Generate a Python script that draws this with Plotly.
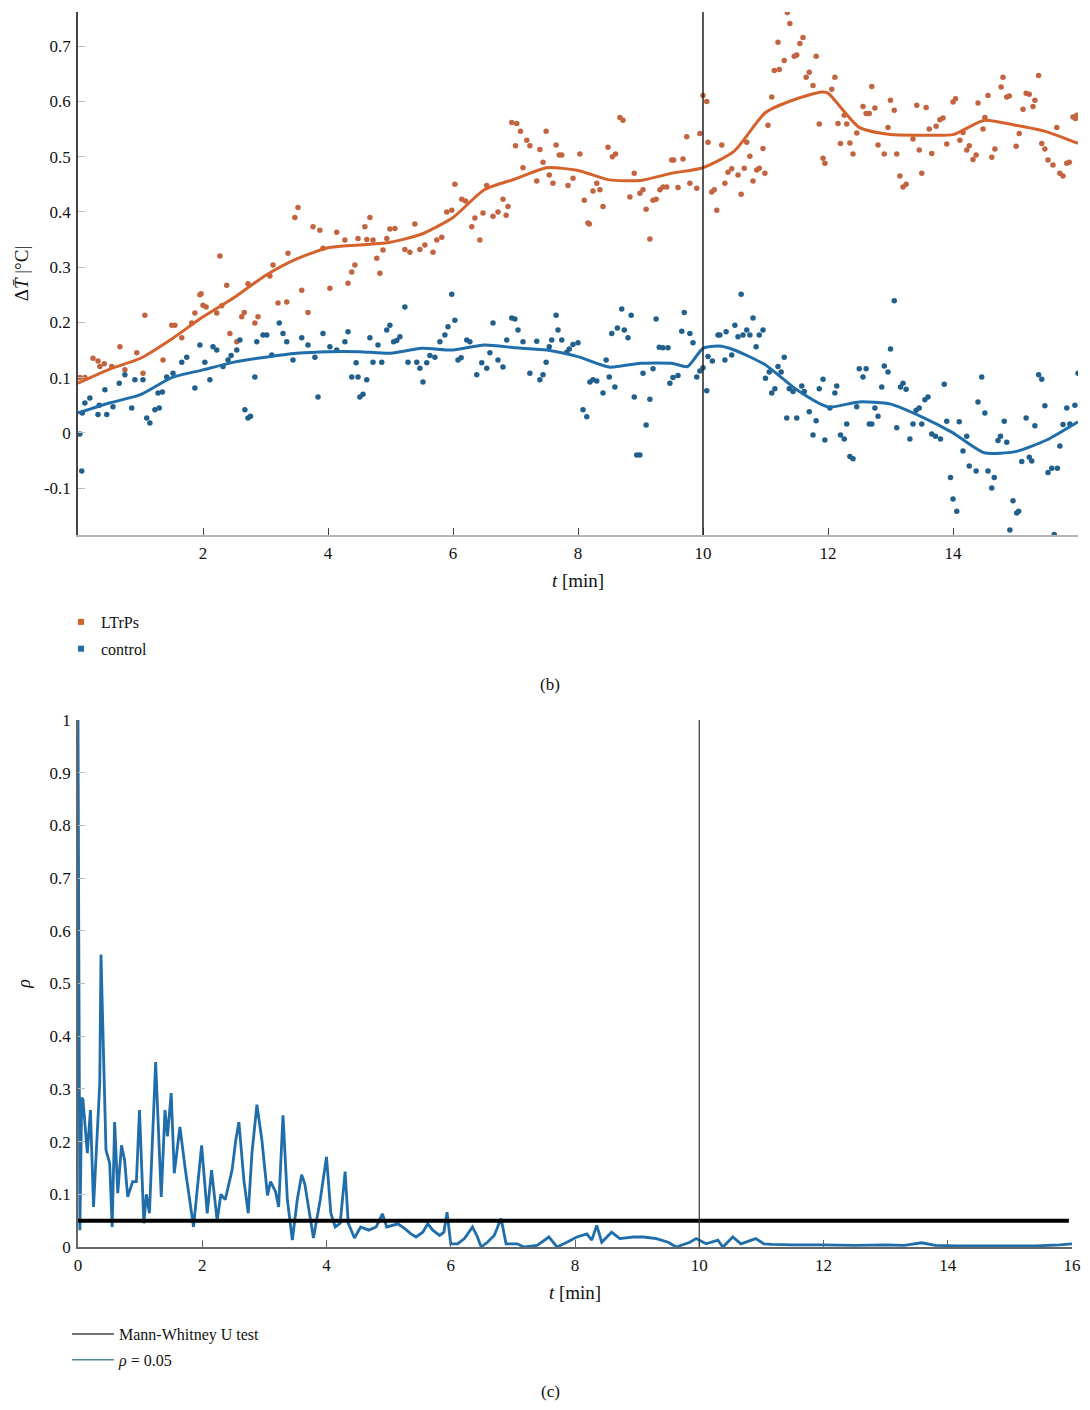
import plotly.graph_objects as go

# ---------------- data: panel (b) ----------------
ltrps_points = [
    (0.03, 0.10), (0.11, 0.10), (0.24, 0.135), (0.32, 0.13), (0.35, 0.12), (0.42, 0.125), (0.54, 0.12),
    (0.67, 0.156), (0.75, 0.114), (0.94, 0.145), (1.04, 0.108), (1.07, 0.213), (1.36, 0.132), (1.50, 0.195),
    (1.55, 0.195), (1.66, 0.172), (1.82, 0.199), (1.87, 0.217), (1.95, 0.25), (1.97, 0.252), (2.00, 0.231),
    (2.05, 0.228), (2.22, 0.217), (2.27, 0.32), (2.30, 0.23), (2.38, 0.267), (2.43, 0.18), (2.54, 0.165),
    (2.62, 0.21), (2.66, 0.218), (2.72, 0.27), (2.83, 0.199), (2.88, 0.21), (3.07, 0.284), (3.12, 0.304),
    (3.20, 0.235), (3.34, 0.237), (3.36, 0.325), (3.47, 0.39), (3.52, 0.408), (3.58, 0.258), (3.68, 0.218),
    (3.76, 0.373), (3.87, 0.367), (3.92, 0.334), (4.03, 0.262), (4.14, 0.363), (4.27, 0.349), (4.32, 0.271),
    (4.38, 0.291), (4.43, 0.304), (4.48, 0.352), (4.59, 0.373), (4.62, 0.35), (4.67, 0.39), (4.72, 0.349),
    (4.78, 0.316), (4.83, 0.289), (4.88, 0.331), (4.94, 0.352), (4.99, 0.369), (5.07, 0.37), (5.23, 0.332),
    (5.31, 0.327), (5.39, 0.378), (5.47, 0.332), (5.55, 0.34), (5.68, 0.327), (5.74, 0.349), (5.82, 0.354),
    (5.90, 0.40), (5.98, 0.403), (6.03, 0.45), (6.14, 0.423), (6.20, 0.42), (6.30, 0.373), (6.35, 0.389),
    (6.43, 0.349), (6.48, 0.398), (6.54, 0.448), (6.64, 0.392), (6.72, 0.40), (6.80, 0.423), (6.85, 0.394),
    (6.88, 0.41), (6.94, 0.562), (7.00, 0.52), (7.02, 0.56), (7.08, 0.546), (7.12, 0.48), (7.18, 0.53),
    (7.23, 0.52), (7.34, 0.456), (7.39, 0.513), (7.44, 0.49), (7.49, 0.546), (7.54, 0.467), (7.60, 0.452),
    (7.65, 0.521), (7.70, 0.503), (7.74, 0.503), (7.84, 0.448), (7.92, 0.461), (8.03, 0.505), (8.10, 0.421),
    (8.16, 0.38), (8.18, 0.378), (8.24, 0.438), (8.30, 0.452), (8.35, 0.44), (8.40, 0.41), (8.48, 0.517),
    (8.55, 0.50), (8.60, 0.505), (8.67, 0.571), (8.72, 0.566), (8.83, 0.427), (8.90, 0.47), (8.99, 0.434),
    (9.04, 0.44), (9.09, 0.405), (9.15, 0.351), (9.20, 0.421), (9.25, 0.423), (9.31, 0.44), (9.36, 0.445),
    (9.42, 0.445), (9.50, 0.494), (9.53, 0.494), (9.60, 0.444), (9.68, 0.496), (9.74, 0.536), (9.79, 0.452),
    (9.90, 0.443), (9.95, 0.542), (10.00, 0.611), (10.06, 0.60), (10.08, 0.526), (10.14, 0.436), (10.18, 0.44),
    (10.22, 0.403), (10.30, 0.521), (10.35, 0.452), (10.40, 0.472), (10.46, 0.478), (10.56, 0.467),
    (10.61, 0.432), (10.66, 0.479), (10.70, 0.526), (10.75, 0.501), (10.80, 0.456), (10.86, 0.476),
    (10.90, 0.479), (10.96, 0.515), (10.99, 0.47), (11.04, 0.557), (11.10, 0.608), (11.14, 0.656),
    (11.20, 0.707), (11.22, 0.658), (11.30, 0.674), (11.35, 0.761), (11.39, 0.741), (11.46, 0.682),
    (11.50, 0.684), (11.55, 0.705), (11.60, 0.716), (11.65, 0.644), (11.70, 0.653), (11.76, 0.629),
    (11.81, 0.682), (11.86, 0.559), (11.92, 0.497), (11.95, 0.488), (12.06, 0.622), (12.11, 0.644),
    (12.16, 0.56), (12.20, 0.524), (12.26, 0.575), (12.30, 0.559), (12.35, 0.525), (12.40, 0.505),
    (12.46, 0.543), (12.56, 0.591), (12.61, 0.578), (12.66, 0.578), (12.70, 0.627), (12.75, 0.588),
    (12.80, 0.521), (12.90, 0.505), (12.96, 0.553), (13.00, 0.602), (13.06, 0.584), (13.10, 0.505),
    (13.15, 0.465), (13.20, 0.445), (13.25, 0.45), (13.36, 0.532), (13.42, 0.593), (13.46, 0.512),
    (13.50, 0.47), (13.57, 0.589), (13.62, 0.55), (13.66, 0.506), (13.73, 0.555), (13.79, 0.567),
    (13.84, 0.57), (13.90, 0.523), (14.00, 0.599), (14.04, 0.605), (14.11, 0.53), (14.16, 0.544),
    (14.22, 0.512), (14.26, 0.52), (14.32, 0.495), (14.37, 0.503), (14.40, 0.597), (14.48, 0.55),
    (14.51, 0.571), (14.56, 0.611), (14.62, 0.499), (14.67, 0.514), (14.77, 0.626), (14.80, 0.644),
    (14.86, 0.608), (14.90, 0.61), (15.01, 0.519), (15.06, 0.542), (15.12, 0.586), (15.17, 0.615),
    (15.22, 0.613), (15.28, 0.591), (15.31, 0.602), (15.37, 0.647), (15.42, 0.524), (15.47, 0.514),
    (15.52, 0.494), (15.60, 0.485), (15.66, 0.553), (15.71, 0.47), (15.76, 0.465), (15.82, 0.488),
    (15.86, 0.49), (15.92, 0.572), (15.96, 0.569), (15.98, 0.575),
]

control_points = [
    (0.03, -0.002), (0.06, -0.069), (0.07, 0.036), (0.11, 0.054), (0.19, 0.063), (0.32, 0.033), (0.34, 0.05),
    (0.43, 0.078), (0.46, 0.033), (0.56, 0.047), (0.66, 0.09), (0.75, 0.105), (0.86, 0.045), (0.91, 0.096),
    (1.04, 0.096), (1.10, 0.027), (1.15, 0.018), (1.23, 0.042), (1.28, 0.072), (1.30, 0.045), (1.35, 0.074),
    (1.42, 0.101), (1.52, 0.108), (1.66, 0.128), (1.74, 0.137), (1.87, 0.081), (1.95, 0.159), (2.03, 0.128),
    (2.11, 0.096), (2.16, 0.156), (2.22, 0.15), (2.32, 0.12), (2.40, 0.132), (2.45, 0.14), (2.54, 0.15),
    (2.59, 0.168), (2.67, 0.042), (2.72, 0.027), (2.76, 0.03), (2.83, 0.101), (2.86, 0.165), (2.96, 0.177),
    (3.02, 0.177), (3.10, 0.141), (3.22, 0.199), (3.28, 0.18), (3.34, 0.165), (3.44, 0.132), (3.58, 0.172),
    (3.68, 0.159), (3.79, 0.137), (3.84, 0.065), (3.92, 0.18), (4.03, 0.156), (4.14, 0.15), (4.27, 0.165),
    (4.32, 0.183), (4.38, 0.101), (4.45, 0.127), (4.48, 0.101), (4.51, 0.065), (4.56, 0.07), (4.62, 0.096),
    (4.67, 0.172), (4.72, 0.128), (4.80, 0.159), (4.86, 0.128), (4.94, 0.186), (4.99, 0.195), (5.05, 0.165),
    (5.10, 0.167), (5.15, 0.174), (5.23, 0.228), (5.28, 0.128), (5.42, 0.128), (5.47, 0.117), (5.52, 0.092),
    (5.58, 0.127), (5.63, 0.14), (5.71, 0.137), (5.79, 0.165), (5.87, 0.177), (5.92, 0.192), (5.98, 0.251),
    (6.03, 0.204), (6.08, 0.132), (6.13, 0.136), (6.22, 0.168), (6.27, 0.165), (6.38, 0.105), (6.46, 0.127),
    (6.54, 0.117), (6.59, 0.145), (6.64, 0.199), (6.72, 0.132), (6.80, 0.119), (6.86, 0.168), (6.94, 0.208),
    (6.99, 0.206), (7.04, 0.186), (7.12, 0.165), (7.23, 0.108), (7.34, 0.166), (7.39, 0.096), (7.44, 0.105),
    (7.49, 0.128), (7.54, 0.156), (7.58, 0.168), (7.65, 0.213), (7.68, 0.186), (7.74, 0.168), (7.82, 0.146),
    (7.86, 0.152), (7.92, 0.16), (8.00, 0.163), (8.08, 0.042), (8.14, 0.029), (8.19, 0.092), (8.24, 0.096),
    (8.30, 0.094), (8.40, 0.072), (8.45, 0.132), (8.50, 0.101), (8.54, 0.18), (8.59, 0.083), (8.63, 0.19),
    (8.70, 0.224), (8.74, 0.186), (8.80, 0.172), (8.85, 0.213), (8.90, 0.065), (8.94, -0.04), (8.99, -0.04),
    (9.04, 0.108), (9.09, 0.014), (9.15, 0.061), (9.20, 0.116), (9.25, 0.206), (9.30, 0.155), (9.36, 0.154),
    (9.44, 0.154), (9.47, 0.09), (9.52, 0.1), (9.60, 0.104), (9.66, 0.184), (9.70, 0.218), (9.79, 0.18),
    (9.84, 0.163), (9.90, 0.101), (9.95, 0.112), (10.00, 0.118), (10.06, 0.076), (10.08, 0.138),
    (10.15, 0.13), (10.24, 0.177), (10.27, 0.177), (10.35, 0.132), (10.37, 0.183), (10.46, 0.141),
    (10.51, 0.195), (10.56, 0.174), (10.61, 0.251), (10.64, 0.177), (10.70, 0.186), (10.75, 0.177),
    (10.80, 0.208), (10.85, 0.156), (10.90, 0.177), (10.96, 0.186), (11.00, 0.099), (11.06, 0.11),
    (11.10, 0.072), (11.15, 0.08), (11.20, 0.12), (11.25, 0.11), (11.30, 0.137), (11.34, 0.027),
    (11.38, 0.08), (11.44, 0.075), (11.50, 0.027), (11.58, 0.085), (11.62, 0.075), (11.70, 0.038),
    (11.76, -0.004), (11.81, 0.022), (11.86, 0.08), (11.92, 0.097), (11.95, -0.013), (12.03, 0.045),
    (12.11, 0.072), (12.14, 0.085), (12.20, -0.004), (12.26, -0.011), (12.30, 0.016), (12.35, -0.043),
    (12.40, -0.047), (12.46, 0.047), (12.50, 0.116), (12.56, 0.101), (12.61, 0.116), (12.66, 0.016),
    (12.70, 0.016), (12.75, 0.045), (12.80, 0.03), (12.86, 0.083), (12.90, 0.121), (12.96, 0.11),
    (13.00, 0.152), (13.06, 0.239), (13.10, 0.009), (13.16, 0.083), (13.20, 0.09), (13.25, 0.079),
    (13.31, -0.011), (13.36, 0.016), (13.41, 0.041), (13.46, 0.045), (13.50, 0.016), (13.55, 0.06),
    (13.60, 0.065), (13.66, -0.002), (13.72, -0.006), (13.80, -0.011), (13.86, 0.088), (13.90, 0.021),
    (13.96, -0.081), (14.00, -0.12), (14.06, -0.142), (14.10, 0.02), (14.16, -0.033), (14.22, -0.006),
    (14.26, -0.06), (14.37, -0.069), (14.40, 0.056), (14.46, 0.101), (14.51, 0.036), (14.56, -0.069),
    (14.62, -0.1), (14.66, -0.081), (14.72, -0.014), (14.76, -0.006), (14.82, 0.021), (14.86, -0.017),
    (14.91, -0.176), (14.96, -0.123), (15.02, -0.145), (15.05, -0.142), (15.10, -0.052), (15.17, 0.027),
    (15.22, -0.044), (15.26, -0.051), (15.31, 0.013), (15.37, 0.105), (15.42, 0.097), (15.47, 0.049),
    (15.52, -0.072), (15.58, -0.064), (15.62, -0.184), (15.67, -0.064), (15.71, -0.024), (15.76, 0.015),
    (15.82, 0.045), (15.87, 0.016), (15.95, 0.05), (16.00, 0.108),
]

ltrps_trend = [
    (0.0, 0.09), (0.5, 0.115), (1.0, 0.135), (1.5, 0.17), (2.0, 0.21), (2.5, 0.245), (3.0, 0.285),
    (3.5, 0.315), (4.0, 0.335), (4.5, 0.34), (5.0, 0.345), (5.5, 0.36), (6.0, 0.39), (6.5, 0.44),
    (7.0, 0.46), (7.5, 0.48), (8.0, 0.475), (8.5, 0.458), (9.0, 0.457), (9.5, 0.47), (10.0, 0.48),
    (10.5, 0.51), (11.0, 0.58), (11.5, 0.605), (11.9, 0.617), (12.0, 0.615), (12.5, 0.553), (13.0, 0.54),
    (13.5, 0.539), (14.0, 0.54), (14.5, 0.566), (15.0, 0.557), (15.5, 0.545), (16.0, 0.524),
]

control_trend = [
    (0.0, 0.036), (0.5, 0.054), (1.0, 0.069), (1.5, 0.10), (2.0, 0.114), (2.5, 0.128), (3.0, 0.137),
    (3.5, 0.144), (4.0, 0.147), (4.5, 0.147), (5.0, 0.144), (5.5, 0.153), (6.0, 0.15), (6.5, 0.159),
    (7.0, 0.154), (7.5, 0.15), (8.0, 0.138), (8.5, 0.119), (9.0, 0.126), (9.5, 0.126), (9.75, 0.12),
    (10.0, 0.153), (10.25, 0.157), (10.5, 0.15), (11.0, 0.123), (11.5, 0.078), (12.0, 0.047), (12.5, 0.056),
    (13.0, 0.052), (13.5, 0.029), (14.0, 0.0), (14.5, -0.036), (15.0, -0.034), (15.5, -0.013), (16.0, 0.02),
]

b_yticks = [-0.1, 0, 0.1, 0.2, 0.3, 0.4, 0.5, 0.6, 0.7]
b_yticklabels = ["-0.1", "0", "0.1", "0.2", "0.3", "0.4", "0.5", "0.6", "0.7"]
b_xticks = [2, 4, 6, 8, 10, 12, 14]

# ---------------- data: panel (c) ----------------
rho_t = [0, 0.01, 0.03, 0.06, 0.08, 0.15, 0.2, 0.25, 0.3, 0.35, 0.37, 0.45, 0.51, 0.55, 0.59, 0.64, 0.7, 0.75,
         0.8, 0.88, 0.94, 0.99, 1.06, 1.1, 1.15, 1.25, 1.34, 1.4, 1.44, 1.5, 1.55, 1.64, 1.73, 1.86, 1.92, 1.99,
         2.08, 2.15, 2.24, 2.3, 2.37, 2.48, 2.54, 2.59, 2.67, 2.74, 2.8, 2.88, 2.96, 3.05, 3.1, 3.18, 3.23, 3.3,
         3.37, 3.45, 3.53, 3.6, 3.65, 3.79, 3.9, 4.0, 4.07, 4.14, 4.22, 4.3, 4.35, 4.45, 4.55, 4.68, 4.8, 4.9,
         4.97, 5.05, 5.15, 5.26, 5.36, 5.44, 5.55, 5.63, 5.71, 5.82, 5.89, 5.94, 6.0, 6.11, 6.22, 6.35, 6.43,
         6.49, 6.59, 6.7, 6.81, 6.89, 7.07, 7.18, 7.39, 7.58, 7.71, 7.87, 8.03, 8.19, 8.27, 8.35, 8.43, 8.59,
         8.72, 8.94, 9.1, 9.31, 9.5, 9.63, 9.85, 9.95, 10.11, 10.3, 10.38, 10.54, 10.67, 10.91, 11.04, 11.17,
         11.5, 12.0, 12.5, 13.0, 13.3, 13.58, 13.8, 14.2, 14.6, 15.0, 15.4, 15.8, 16.0]
rho_p = [1.0, 0.6, 0.032, 0.283, 0.28, 0.178, 0.26, 0.076, 0.197, 0.31, 0.555, 0.184, 0.159, 0.038, 0.237, 0.102,
         0.193, 0.165, 0.095, 0.124, 0.124, 0.26, 0.045, 0.1, 0.064, 0.351, 0.095, 0.26, 0.21, 0.292, 0.14, 0.228,
         0.145, 0.038, 0.11, 0.193, 0.064, 0.146, 0.05, 0.1, 0.09, 0.146, 0.203, 0.237, 0.127, 0.064, 0.178, 0.27,
         0.203, 0.098, 0.124, 0.105, 0.076, 0.25, 0.09, 0.013, 0.09, 0.137, 0.12, 0.017, 0.09, 0.171, 0.064, 0.038,
         0.045, 0.143, 0.045, 0.017, 0.038, 0.032, 0.038, 0.063, 0.038, 0.041, 0.044, 0.035, 0.025, 0.019, 0.028,
         0.044, 0.032, 0.022, 0.028, 0.066, 0.006, 0.006, 0.016, 0.038, 0.019, 0.0, 0.009, 0.022, 0.054, 0.006,
         0.006, 0.0, 0.003, 0.019, 0.0, 0.009, 0.019, 0.025, 0.013, 0.041, 0.009, 0.028, 0.016, 0.019, 0.019,
         0.016, 0.009, 0.0, 0.009, 0.016, 0.006, 0.013, 0.0, 0.019, 0.006, 0.016, 0.006, 0.005, 0.004, 0.004,
         0.003, 0.004, 0.003, 0.008, 0.003, 0.002, 0.002, 0.003, 0.002, 0.004, 0.006, 0.01]
threshold_t = [0, 15.95]
threshold_p = [0.05, 0.05]
event_time = [10]

c_yticks = [0, 0.1, 0.2, 0.3, 0.4, 0.5, 0.6, 0.7, 0.8, 0.9, 1]
c_yticklabels = ["0", "0.1", "0.2", "0.3", "0.4", "0.5", "0.6", "0.7", "0.8", "0.9", "1"]
c_xticks = [0, 2, 4, 6, 8, 10, 12, 14, 16]

# ---------------- styles ----------------
ORANGE = "#d5612b"
ORANGE_DOT = "#c2643f"
BLUE = "#1f6eab"
BLUE_DOT = "#215f8c"
SERIF = "Liberation Serif, DejaVu Serif, serif"

# page body has an 8px default margin: figure is sized to fill the 1090x1410 window exactly
FIG_W, FIG_H, OFF = 1074, 1394, 8

def PX(ref_x):
    return (ref_x - OFF) / FIG_W

def PY(ref_y):
    return 1 - (ref_y - OFF) / FIG_H

def unzip(pairs):
    return [p[0] for p in pairs], [p[1] for p in pairs]

lx, ly = unzip(ltrps_points)
cx, cy = unzip(control_points)
ltx, lty = unzip(ltrps_trend)
ctx, cty = unzip(control_trend)

fig = go.Figure()

fig.add_trace(go.Scatter(x=lx, y=ly, mode="markers", marker=dict(size=5.5, color=ORANGE_DOT),
                         showlegend=False, xaxis="x", yaxis="y"))
fig.add_trace(go.Scatter(x=cx, y=cy, mode="markers", marker=dict(size=5.5, color=BLUE_DOT),
                         showlegend=False, xaxis="x", yaxis="y"))
fig.add_trace(go.Scatter(x=ltx, y=lty, mode="lines", line=dict(color=ORANGE, width=3, shape="spline", smoothing=0.6),
                         showlegend=False, xaxis="x", yaxis="y"))
fig.add_trace(go.Scatter(x=ctx, y=cty, mode="lines", line=dict(color=BLUE, width=3, shape="spline", smoothing=0.6),
                         showlegend=False, xaxis="x", yaxis="y"))
# legend entries (b)
fig.add_trace(go.Scatter(x=[None], y=[None], mode="markers", name="LTrPs", legend="legend",
                         legendgroup="a", marker=dict(symbol="square", size=6, color=ORANGE),
                         xaxis="x", yaxis="y"))
fig.add_trace(go.Scatter(x=[None], y=[None], mode="markers", name="control", legend="legend",
                         legendgroup="b", marker=dict(symbol="square", size=6, color=BLUE),
                         xaxis="x", yaxis="y"))

# panel (c)
fig.add_trace(go.Scatter(x=rho_t, y=rho_p, mode="lines", line=dict(color=BLUE, width=2.8),
                         showlegend=False, xaxis="x2", yaxis="y2"))
fig.add_trace(go.Scatter(x=threshold_t, y=threshold_p, mode="lines", line=dict(color="#000000", width=4),
                         showlegend=False, xaxis="x2", yaxis="y2"))
fig.add_trace(go.Scatter(x=[None], y=[None], mode="lines", name="Mann-Whitney U test", legend="legend2",
                         legendgroup="c", line=dict(color="#444444", width=1.5), xaxis="x2", yaxis="y2"))
fig.add_trace(go.Scatter(x=[None], y=[None], mode="lines", name="<i>ρ</i> = 0.05", legend="legend2",
                         legendgroup="d", line=dict(color="#4d8a98", width=1.5), xaxis="x2", yaxis="y2"))

# vertical event lines
fig.add_shape(type="line", xref="x", yref="y domain", x0=event_time[0], x1=event_time[0], y0=0, y1=1,
              line=dict(color="#222222", width=1.5))
fig.add_shape(type="line", xref="x2", yref="y2 domain", x0=event_time[0], x1=event_time[0], y0=0, y1=1,
              line=dict(color="#333333", width=1.2))

tickfont = dict(family=SERIF, size=17, color="#111111")
axcommon = dict(showgrid=False, zeroline=False, showline=True, ticks="inside", ticklen=7, tickwidth=1.2,
                tickfont=tickfont, automargin=False, ticklabeloverflow="allow")

fig.update_layout(
    width=FIG_W, height=FIG_H,
    margin=dict(l=0, r=0, t=0, b=0),
    paper_bgcolor="white", plot_bgcolor="white",
    font=dict(family=SERIF, size=17, color="#111111"),
    xaxis=dict(axcommon, domain=[PX(78), PX(1078)], anchor="y", range=[0, 16], tickvals=b_xticks,
               linecolor="#b5b5b5", linewidth=1.5, tickcolor="#444444", ticklabelstandoff=2,
               title=dict(text="<i>t</i> [min]", font=dict(family=SERIF, size=19), standoff=12)),
    yaxis=dict(axcommon, domain=[PY(535), PY(12)], anchor="x", range=[-0.185, 0.762], tickvals=b_yticks,
               ticktext=b_yticklabels, linecolor="#444444", linewidth=1.5, tickcolor="#bbbbbb",
               ticklabelstandoff=2,
               title=dict(text="Δ<i>T̄</i> |°C|", font=dict(family=SERIF, size=19), standoff=10)),
    xaxis2=dict(axcommon, domain=[PX(78), PX(1072)], anchor="y2", range=[0, 16], tickvals=c_xticks,
                linecolor="#666666", linewidth=1.5, tickcolor="#666666", ticklabelstandoff=2,
                title=dict(text="<i>t</i> [min]", font=dict(family=SERIF, size=19), standoff=12)),
    yaxis2=dict(axcommon, domain=[PY(1247), PY(720)], anchor="x2", range=[0, 1.0], tickvals=c_yticks,
                ticktext=c_yticklabels, linecolor="#666666", linewidth=1.5, tickcolor="#bbbbbb",
                ticklabelstandoff=2,
                title=dict(text="<i>ρ</i>", font=dict(family=SERIF, size=18), standoff=14)),
    legend=dict(x=PX(61), y=PY(605), xanchor="left", yanchor="top", bgcolor="rgba(0,0,0,0)",
                font=dict(family=SERIF, size=16), traceorder="grouped", tracegroupgap=3, itemwidth=30),
    legend2=dict(x=PX(67), y=PY(1317), xanchor="left", yanchor="top", bgcolor="rgba(0,0,0,0)",
                 font=dict(family=SERIF, size=16), traceorder="grouped", tracegroupgap=2, itemwidth=42),
    annotations=[
        dict(text="(b)", x=PX(550), y=PY(685), xref="paper", yref="paper", showarrow=False,
             xanchor="center", yanchor="middle", font=dict(family=SERIF, size=17)),
        dict(text="(c)", x=PX(550), y=PY(1391), xref="paper", yref="paper", showarrow=False,
             xanchor="center", yanchor="middle", font=dict(family=SERIF, size=17)),
    ],
)

fig.write_html("out.html")
